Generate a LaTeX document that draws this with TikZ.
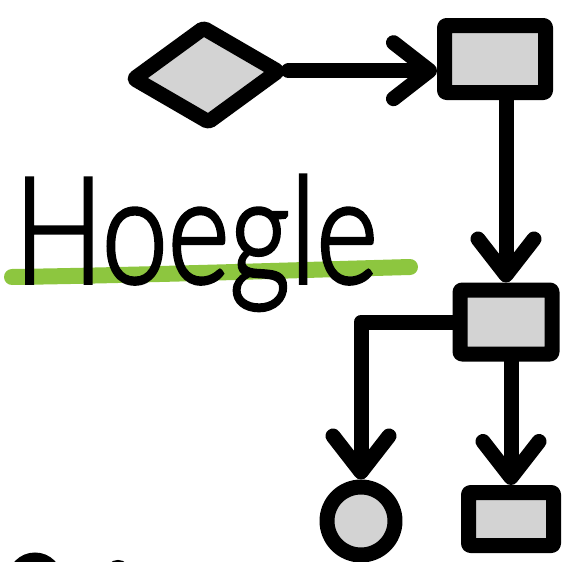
\documentclass[tikz,border=0pt]{standalone}
\usepackage{fontspec}
\IfFontExistsTF{Lato Light}{\newfontfamily\handfont{Lato Light}[FakeBold=2.5]}{\newfontfamily\handfont{Lato}}
\usetikzlibrary{shapes.geometric,arrows.meta}
\definecolor{boxgray}{RGB}{211,211,211}
\definecolor{markgreen}{RGB}{141,198,63}
\begin{document}
\begin{tikzpicture}[x=1pt,y=-1pt,
  shapebox/.style={draw, line width=15pt, fill=boxgray, line join=round, rounded corners=2pt, inner sep=0pt, outer sep=7.5pt},
  flow/.style={line width=15pt, line cap=round, line join=round, -{Straight Barb[length=36pt,width=56pt,round]}},
  greenstroke/.style={markgreen, line width=16pt, line cap=round},
  blob/.style={line width=11pt}
]
\useasboundingbox (0,0) rectangle (563,562);
% underline and title
\draw[greenstroke] (12,277) .. controls (150,275) and (300,270) .. (410,267);
\node[font=\handfont\fontsize{148}{150}\selectfont, anchor=base west, inner sep=0pt] (title) at (14,283) {\scalebox{0.8}[1]{Hoegle}};
% shapes
\node[shapebox, minimum width=101pt, minimum height=67pt] (r1) at (495,59) {};
\node[shapebox, diamond, minimum width=150pt, minimum height=100pt, rotate=3] (d) at (206,75) {};
\node[shapebox, minimum width=92pt, minimum height=64pt] (r2) at (506,322) {};
\node[shapebox, circle, minimum size=68pt] (c) at (361,521) {};
\node[shapebox, minimum width=85pt, minimum height=53pt] (r3) at (511,519) {};
% connectors
\draw[flow] (d.east) -- (d.east -| r1.west);
\draw[flow] (r2.north |- r1.south) -- (r2.north);
\draw[flow] (r2.west) -| (c.north);
\draw[flow] (r3.north |- r2.south) -- (r3.north);
% cut-off marks at the bottom edge
\begin{scope}
\clip (0,0) rectangle (563,562);
\draw[blob] (35,580) circle[radius=22];
\draw[line width=8pt] (118,572) circle[radius=8];
\end{scope}
\end{tikzpicture}
\end{document}
